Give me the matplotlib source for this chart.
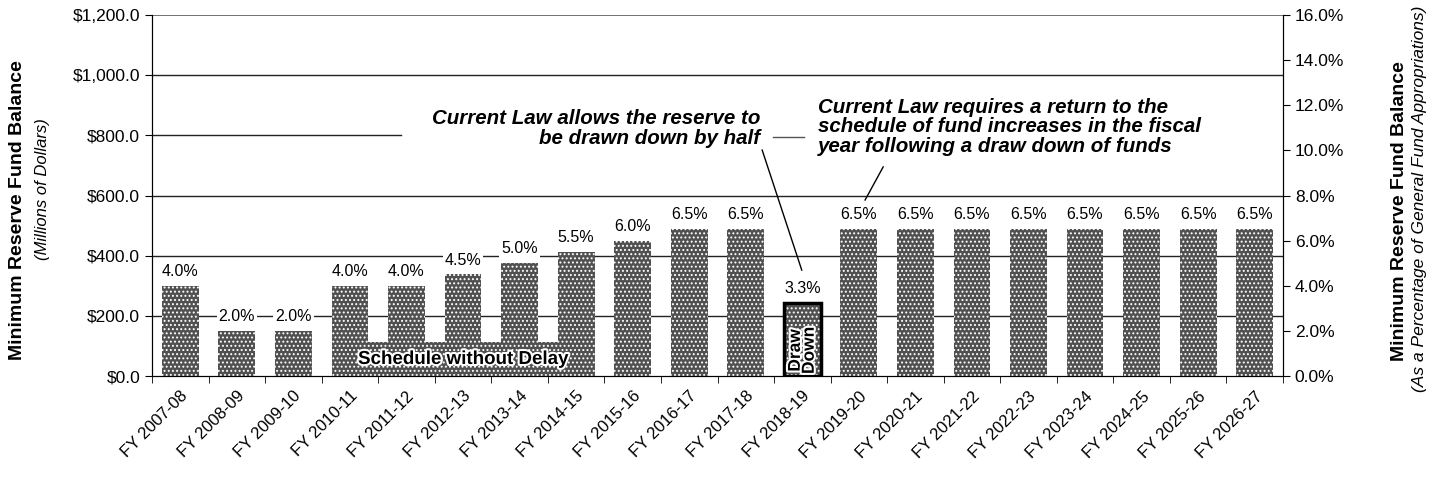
import numpy as np
import matplotlib
matplotlib.use("Agg")
import matplotlib.pyplot as plt
import matplotlib.patheffects as pe
from matplotlib.ticker import FuncFormatter, MultipleLocator

# ------------------------- Chart Data ---------------------------------------#

fiscalYears = ["FY 2007-08", "FY 2008-09", "FY 2009-10", "FY 2010-11", "FY 2011-12",
               "FY 2012-13", "FY 2013-14", "FY 2014-15", "FY 2015-16", "FY 2016-17",
               "FY 2017-18", "FY 2018-19", "FY 2019-20", "FY 2020-21", "FY 2021-22",
               "FY 2022-23", "FY 2023-24", "FY 2024-25", "FY 2025-26", "FY 2026-27"]
# Reserve as a percentage of general fund appropriations
reservePercent = [4.0, 2.0, 2.0, 4.0, 4.0, 4.5, 5.0, 5.5, 6.0, 6.5,
                  6.5, 3.3, 6.5, 6.5, 6.5, 6.5, 6.5, 6.5, 6.5, 6.5]
# Reserve balance in millions of dollars
reserveBalance = [300.0, 150.0, 150.0, 300.0, 300.0, 337.5, 375.0, 412.5, 450.0, 487.5,
                  487.5, 243.8, 487.5, 487.5, 487.5, 487.5, 487.5, 487.5, 487.5, 487.5]
# "Schedule without Delay" band (first year, last year, balance)
scheduleYears = ["FY 2010-11", "FY 2014-15"]
scheduleBalance = 112.5
drawDownYear = "FY 2018-19"

# ------------------------- Plot Setup ---------------------------------------#

plt.rcParams['font.family'] = ['Liberation Sans', 'DejaVu Sans']
plt.rcParams['hatch.linewidth'] = 0.9

fig = plt.figure(figsize=(14.33, 4.79), dpi=100)
ax = fig.add_axes([0.1061, 0.2150, 0.7892, 0.7537])

x = np.arange(len(fiscalYears))
barWidth = 0.65
barColor = '#505050'

# Gridlines (the scan shows the $800 line only on the left)
for level in [200, 400, 600, 1000]:
    ax.axhline(level, color='#222222', linewidth=1, zorder=0)
ax.axhline(800, xmax=0.22, color='#222222', linewidth=1, zorder=0)
ax.axhline(1200, color='#666666', linewidth=1.3, zorder=0)

# Schedule without delay band
first = fiscalYears.index(scheduleYears[0])
last = fiscalYears.index(scheduleYears[1])
ax.bar(first - barWidth / 2, scheduleBalance, width=last - first + barWidth, align='edge',
       color=barColor, edgecolor='white', linewidth=0, hatch='....', zorder=2)

# Main bars
ax.bar(x, reserveBalance, width=barWidth, color=barColor, edgecolor='white',
       linewidth=0, hatch='....', zorder=2)
dd = fiscalYears.index(drawDownYear)
ax.bar(dd, reserveBalance[dd], width=barWidth, facecolor='none', edgecolor='black',
       linewidth=2.5, zorder=3)

halo = [pe.withStroke(linewidth=3, foreground='white')]
ax.text((first + last) / 2, 55, "Schedule without Delay", ha='center', va='center',
        fontsize=13.5, fontweight='bold', color='black', path_effects=halo, zorder=4)
ax.text(dd, 85, "Draw\nDown", rotation=90, ha='center', va='center', fontsize=12.5,
        fontweight='bold', linespacing=0.9, path_effects=halo, zorder=4)

# Percentage labels over each bar
for i in range(len(x)):
    ax.annotate("%.1f%%" % reservePercent[i], (x[i], reserveBalance[i]), xytext=(0, 5),
                textcoords='offset points', ha='center', va='bottom', fontsize=11.5,
                bbox=dict(facecolor='white', edgecolor='none', pad=1.5), zorder=4)

# Annotations
ax.text(10.25, 822, "Current Law allows the reserve to\nbe drawn down by half", ha='right',
        va='center', multialignment='right', fontsize=14.8, fontweight='bold',
        fontstyle='italic', linespacing=1.05)
ax.plot([10.29, 10.99], [751, 352], color='black', linewidth=1)
ax.plot([10.48, 11.03], [795, 795], color='#555555', linewidth=1)
ax.text(11.28, 828, "Current Law requires a return to the\nschedule of fund increases in the fiscal\n"
        "year following a draw down of funds", ha='left', va='center', fontsize=14.8,
        fontweight='bold', fontstyle='italic', linespacing=1.05)
ax.plot([12.43, 12.11], [695, 585], color='black', linewidth=1)

# ------------------------- Axes ---------------------------------------------#

ax.set_xlim(-0.5, len(x) - 0.5)
ax.set_ylim(0, 1200)
ax.yaxis.set_major_locator(MultipleLocator(200))
ax.yaxis.set_major_formatter(FuncFormatter(lambda v, p: "${:,.1f}".format(v)))
ax.tick_params(axis='y', labelsize=12.5, direction='out', length=5)
ax.set_xticks(x)
ax.set_xticklabels(fiscalYears, rotation=45, ha='right', rotation_mode='anchor', fontsize=12)
ax.tick_params(axis='x', which='major', length=0, pad=9)
ax.set_xticks(np.arange(len(x) + 1) - 0.5, minor=True)
ax.tick_params(axis='x', which='minor', length=5, direction='out')
ax.spines['top'].set_visible(False)

ax2 = ax.twinx()
ax2.set_ylim(0, 16)
ax2.yaxis.set_major_locator(MultipleLocator(2))
ax2.yaxis.set_major_formatter(FuncFormatter(lambda v, p: "%.1f%%" % v))
ax2.tick_params(axis='y', labelsize=12.5, direction='out', length=5)
ax2.spines['top'].set_visible(False)

# Axis titles
fig.text(0.0125, 0.562, "Minimum Reserve Fund Balance", rotation=90, ha='center', va='center',
         fontsize=14, fontweight='bold')
fig.text(0.030, 0.605, "(Millions of Dollars)", rotation=90, ha='center', va='center',
         fontsize=12, fontstyle='italic')
fig.text(0.9765, 0.559, "Minimum Reserve Fund Balance", rotation=90, ha='center', va='center',
         fontsize=14, fontweight='bold')
fig.text(0.9905, 0.585, "(As a Percentage of General Fund Appropriations)", rotation=90,
         ha='center', va='center', fontsize=12.5, fontstyle='italic')

fig.savefig("out.png", dpi=100)
